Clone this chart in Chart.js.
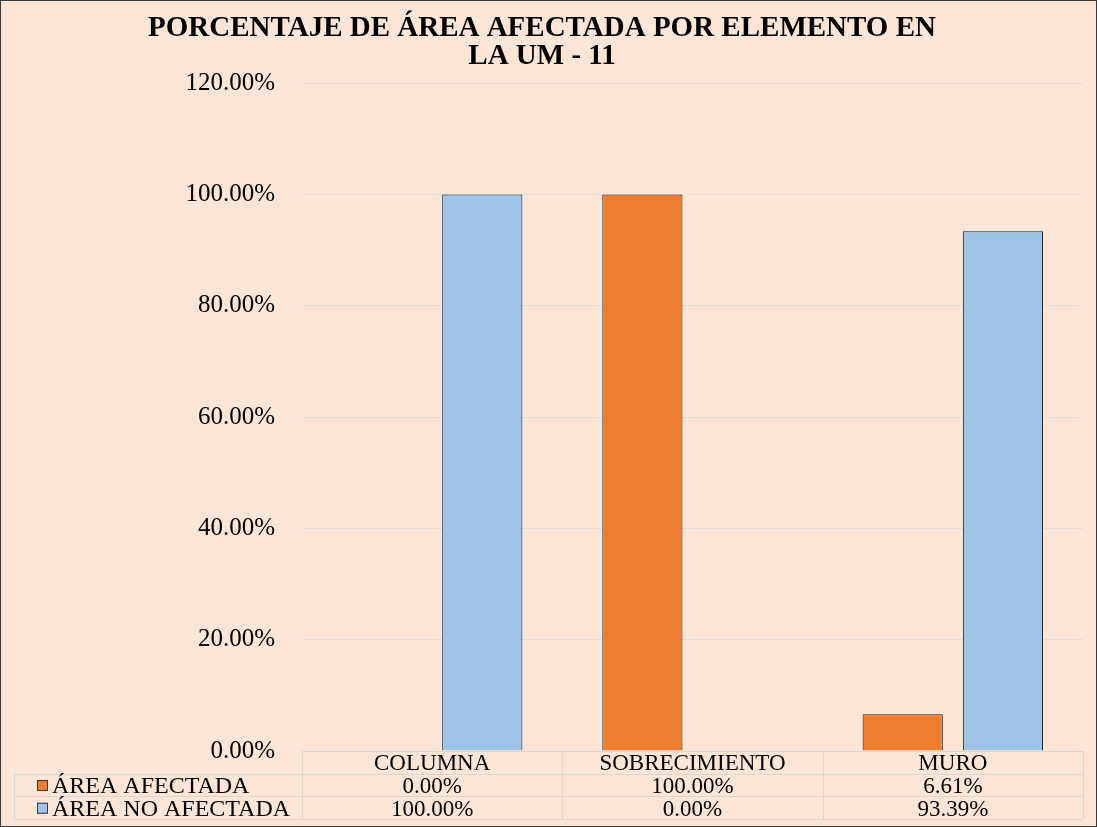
<!DOCTYPE html>
<html>
<head>
<meta charset="utf-8">
<script src="https://cdn.jsdelivr.net/npm/chart.js@4.4.0/dist/chart.umd.min.js"></script>
<style>
  html, body { margin: 0; padding: 0; }
  #wrap {
    width: 1097px; height: 827px; box-sizing: border-box;
    border: 1px solid #3a3a3a; background: #FBE5D6;
  }
  canvas { display: block; }
</style>
</head>
<body>
<div id="wrap"><canvas id="chart" width="1095" height="825"></canvas></div>
<script>
// data
const categories = ['COLUMNA', 'SOBRECIMIENTO', 'MURO'];
const areaAfectada = [0, 100, 6.61];
const areaNoAfectada = [100, 0, 93.39];
const seriesNames = ['ÁREA AFECTADA', 'ÁREA NO AFECTADA'];
const yTicks = [0, 20, 40, 60, 80, 100, 120];

const ORANGE = '#ED7D31';
const BLUE = '#9DC3E6';
const FONT = '"Liberation Serif", "Times New Roman", serif';
const fmt = v => v.toFixed(2) + '%';

// data table under the x axis, aligned with the category scale
const dataTable = {
  id: 'dataTable',
  afterDraw(chart) {
    const ctx = chart.ctx;
    const area = chart.chartArea;
    const x = chart.scales.x;
    const rowH = 22.7;
    const top = area.bottom;
    const tableLeft = 13;
    const n = categories.length;
    const catW = (area.right - area.left) / n;
    ctx.save();
    ctx.strokeStyle = '#DCD6D0';
    ctx.lineWidth = 1;
    ctx.beginPath();
    ctx.moveTo(area.left, Math.round(top) + 0.5); ctx.lineTo(area.right, Math.round(top) + 0.5);
    for (let r = 1; r <= 3; r++) {
      const y = Math.round(top + r * rowH) + 0.5;
      ctx.moveTo(tableLeft, y); ctx.lineTo(area.right, y);
    }
    for (let i = 0; i <= n; i++) {
      const xx = Math.round(area.left + i * catW) + 0.5;
      ctx.moveTo(xx, top); ctx.lineTo(xx, top + 3 * rowH);
    }
    ctx.moveTo(tableLeft + 0.5, top + rowH); ctx.lineTo(tableLeft + 0.5, top + 3 * rowH);
    ctx.stroke();

    ctx.fillStyle = '#000';
    ctx.font = '23px ' + FONT;
    ctx.textAlign = 'center';
    ctx.textBaseline = 'middle';
    categories.forEach((c, i) => {
      const cx = x.getPixelForValue(i);
      ctx.fillText(c, cx, top + rowH * 0.5 + 2);
      ctx.fillText(fmt(areaAfectada[i]), cx, top + rowH * 1.5 + 2);
      ctx.fillText(fmt(areaNoAfectada[i]), cx, top + rowH * 2.5 + 2);
    });
    // row labels with legend keys
    const colors = [ORANGE, BLUE];
    ctx.font = '24px ' + FONT;
    seriesNames.forEach((s, r) => {
      const cy = top + rowH * (r + 1.5);
      ctx.fillStyle = colors[r];
      ctx.fillRect(36, cy - 5, 11, 11);
      ctx.strokeStyle = '#3a3a3a';
      ctx.strokeRect(36.5, cy - 4.5, 10, 10);
      ctx.fillStyle = '#000';
      ctx.textAlign = 'left';
      ctx.fillText(s, 51, cy + 2);
    });
    ctx.restore();
  }
};

new Chart(document.getElementById('chart'), {
  type: 'bar',
  data: {
    labels: categories,
    datasets: [
      { label: seriesNames[0], data: areaAfectada, backgroundColor: ORANGE,
        borderColor: '#1f1f1f', borderWidth: 1 },
      { label: seriesNames[1], data: areaNoAfectada, backgroundColor: BLUE,
        borderColor: '#1f1f1f', borderWidth: 1 }
    ]
  },
  options: {
    responsive: false,
    animation: false,
    layout: { padding: { left: 0, right: 13, top: 0, bottom: 67 } },
    datasets: { bar: { categoryPercentage: 0.77, barPercentage: 0.8 } },
    plugins: {
      legend: { display: false },
      tooltip: { enabled: false },
      title: {
        display: true,
        text: ['PORCENTAJE DE ÁREA AFECTADA POR ELEMENTO EN', 'LA UM - 11'],
        color: '#000',
        font: { family: FONT, size: 29, weight: 'bold', lineHeight: 0.95 },
        padding: { top: 14, bottom: 13 }
      }
    },
    scales: {
      x: {
        ticks: { display: false },
        grid: { display: false },
        border: { display: false }
      },
      y: {
        min: 0, max: 120,
        afterBuildTicks(scale) { scale.ticks = yTicks.map(v => ({ value: v })); },
        afterFit(scale) { scale.width = 301; },
        ticks: {
          padding: 27,
          color: '#000',
          font: { family: FONT, size: 25 },
          callback: v => fmt(v)
        },
        grid: { color: '#E4DDD7', drawTicks: false },
        border: { display: false }
      }
    }
  },
  plugins: [dataTable]
});
</script>
</body>
</html>
